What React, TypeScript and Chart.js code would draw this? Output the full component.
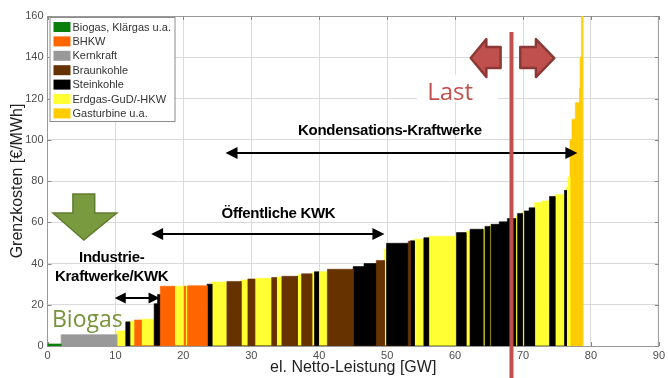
import React, { useEffect, useRef } from 'react';
import { Chart, registerables } from 'chart.js';

Chart.register(...registerables);

// Fuel categories (legend order) and their fill colours
const fuelNames = [
  'Biogas, Klärgas u.a.',
  'BHKW',
  'Kernkraft',
  'Braunkohle',
  'Steinkohle',
  'Erdgas-GuD/-HKW',
  'Gasturbine u.a.',
];
const fuelColors = ['#0b7f0b', '#ff6600', '#999999', '#663300', '#000000', '#ffff33', '#ffcc00'];

// Merit order: every block ends at blockEnd (cumulative GW) and has the marginal cost blockCost (€/MWh).
// blockFuel holds the index into fuelNames.
const blockFuel = [
  0, 2, 5, 4, 5, 1, 5, 4, 4, 1,
  5, 1, 5, 1, 4, 5, 3, 5, 3, 5,
  3, 5, 3, 5, 3, 5, 4, 5, 3, 4,
  4, 3, 5, 4, 3, 4, 5, 4, 5, 4,
  5, 4, 5, 4, 5, 4, 4, 4, 5, 4,
  5, 4, 4, 5, 5, 4, 5, 4, 5, 5,
  6, 6, 6, 6, 6, 6,
];
const blockEnd = [
  2.0, 10.2, 11.5, 12.1, 12.8, 13.8, 15.7, 16.2, 16.6, 18.7,
  20.1, 20.3, 20.6, 23.5, 24.2, 26.4, 28.5, 29.5, 30.5, 33.0,
  33.7, 34.5, 36.8, 37.4, 38.9, 39.3, 39.9, 41.2, 45.0, 46.6,
  48.4, 49.6, 49.9, 53.1, 53.4, 54.0, 55.4, 56.1, 60.2, 61.6,
  62.2, 64.1, 64.4, 65.1, 65.3, 66.5, 67.7, 68.9, 69.2, 69.9,
  70.2, 70.9, 71.7, 72.8, 73.9, 74.7, 76.1, 76.4, 76.6, 76.9,
  77.2, 77.7, 78.3, 78.4, 78.6, 78.8,
];
const blockCost = [
  1, 5.5, 7.3, 11.7, 12, 12.6, 13, 20.5, 25, 29,
  29, 29, 29, 29.2, 30, 31, 31.3, 32, 32.5, 32.8,
  33.2, 33.4, 33.8, 34.5, 35, 35.5, 36, 36, 37.2, 38.5,
  40, 41.5, 47, 49.8, 50.8, 51, 51.8, 52.5, 53.2, 55,
  55.5, 56.6, 57, 58, 58.3, 59, 60.2, 61.8, 63, 64.3,
  64.8, 65.5, 67, 69.5, 70.3, 72.5, 73.5, 75.5, 77, 82,
  100, 110, 118, 125, 140, 175,
];

// Axis ranges
const xRange = [0, 90];
const xStep = 10;
const yRange = [0, 160];
const yStep = 20;

// Current load (GW)
const loadGW = 68.3;

const FONT = '"Liberation Sans", Arial, sans-serif';

function doubleArrow(ctx: CanvasRenderingContext2D, x1: number, x2: number, y: number, hl: number, hw: number) {
  ctx.save();
  ctx.strokeStyle = '#000';
  ctx.fillStyle = '#000';
  ctx.lineWidth = 2;
  ctx.beginPath();
  ctx.moveTo(x1 + hl - 1, y);
  ctx.lineTo(x2 - hl + 1, y);
  ctx.stroke();
  ctx.beginPath();
  ctx.moveTo(x1, y);
  ctx.lineTo(x1 + hl, y - hw);
  ctx.lineTo(x1 + hl, y + hw);
  ctx.closePath();
  ctx.fill();
  ctx.beginPath();
  ctx.moveTo(x2, y);
  ctx.lineTo(x2 - hl, y - hw);
  ctx.lineTo(x2 - hl, y + hw);
  ctx.closePath();
  ctx.fill();
  ctx.restore();
}

function boldLabel(ctx: CanvasRenderingContext2D, text: string, x: number, y: number) {
  ctx.save();
  ctx.font = `bold 15px ${FONT}`;
  (ctx as any).letterSpacing = '-0.3px';
  ctx.fillStyle = '#000';
  ctx.textAlign = 'center';
  ctx.textBaseline = 'middle';
  ctx.fillText(text, x, y);
  ctx.restore();
}

const overlayPlugin = {
  id: 'overlay',
  beforeDatasetsDraw(chart: any) {
    const { ctx, chartArea: a, scales } = chart;
    ctx.save();
    // box around the plot
    ctx.strokeStyle = '#999';
    ctx.lineWidth = 1;
    ctx.beginPath();
    ctx.moveTo(a.left, a.top + 0.5);
    ctx.lineTo(a.right - 0.5, a.top + 0.5);
    ctx.lineTo(a.right - 0.5, a.bottom);
    ctx.stroke();
    // inward tick marks
    ctx.strokeStyle = '#888';
    for (let v = xRange[0]; v <= xRange[1]; v += xStep) {
      const px = Math.round(scales.x.getPixelForValue(v)) + 0.5;
      ctx.beginPath();
      ctx.moveTo(px, a.bottom);
      ctx.lineTo(px, a.bottom - 4);
      ctx.moveTo(px, a.top);
      ctx.lineTo(px, a.top + 4);
      ctx.stroke();
    }
    for (let v = yRange[0]; v <= yRange[1]; v += yStep) {
      const py = Math.round(scales.y.getPixelForValue(v)) + 0.5;
      ctx.beginPath();
      ctx.moveTo(a.left, py);
      ctx.lineTo(a.left + 4, py);
      ctx.moveTo(a.right, py);
      ctx.lineTo(a.right - 4, py);
      ctx.stroke();
    }
    ctx.restore();
  },
  afterDatasetsDraw(chart: any) {
    const { ctx, chartArea: a, scales } = chart;
    const X = (v: number) => scales.x.getPixelForValue(v);
    const Y = (v: number) => scales.y.getPixelForValue(v);

    // legend box
    ctx.save();
    const lx = a.left + 2;
    const ly = a.top + 1;
    ctx.fillStyle = '#fff';
    ctx.fillRect(lx, ly, 125, 104);
    ctx.strokeStyle = '#8c8c8c';
    ctx.lineWidth = 1;
    ctx.strokeRect(lx + 0.5, ly + 0.5, 125, 104);
    ctx.font = `11px ${FONT}`;
    ctx.textBaseline = 'middle';
    fuelNames.forEach((name, i) => {
      const cy = ly + 10 + i * 14.4;
      ctx.fillStyle = fuelColors[i];
      ctx.fillRect(lx + 4, cy - 5, 17, 10);
      ctx.fillStyle = '#333';
      ctx.fillText(name, lx + 23, cy + 0.5);
    });
    ctx.restore();

    // group annotations
    boldLabel(ctx, 'Kondensations-Kraftwerke', X(50.4), Y(104.2));
    doubleArrow(ctx, X(26.2), X(78.0), Math.round(Y(93.8)), 12, 6);
    boldLabel(ctx, 'Öffentliche KWK', X(34.0), Y(64));
    doubleArrow(ctx, X(15.25), X(49.6), Math.round(Y(54.3)), 12, 6);
    boldLabel(ctx, 'Industrie-', X(9.45), Y(42.9));
    boldLabel(ctx, 'Kraftwerke/KWK', X(9.45), Y(33.5));
    doubleArrow(ctx, X(9.9), X(16.5), Math.round(Y(23.4)), 11, 5.5);

    // Biogas label and downward arrow
    ctx.save();
    ctx.font = `23px "Open Sans", ${FONT}`;
    ctx.fillStyle = '#77933c';
    ctx.textBaseline = 'alphabetic';
    ctx.fillText('Biogas', X(0.66), Y(9.2));
    ctx.beginPath();
    ctx.moveTo(X(3.74), Y(73.7));
    ctx.lineTo(X(6.95), Y(73.7));
    ctx.lineTo(X(6.95), Y(64.5));
    ctx.lineTo(X(10.2), Y(64.5));
    ctx.lineTo(X(5.35), Y(51.4));
    ctx.lineTo(X(0.8), Y(64.5));
    ctx.lineTo(X(3.74), Y(64.5));
    ctx.closePath();
    ctx.fillStyle = '#7a9a3f';
    ctx.fill();
    ctx.strokeStyle = '#627d32';
    ctx.lineWidth = 1.5;
    ctx.stroke();
    ctx.restore();

    // load marker
    ctx.save();
    ctx.fillStyle = '#fff';
    ctx.fillRect(X(54.4), Y(131.5), X(66.3) - X(54.4), Y(118.2) - Y(131.5));
    ctx.font = `24px "Open Sans", ${FONT}`;
    ctx.fillStyle = '#c0504d';
    ctx.textBaseline = 'alphabetic';
    ctx.fillText('Last', X(55.9), Y(119.3));

    const yc = Y(139.6);
    const headTop = Y(148.8);
    const headBot = Y(130.4);
    const shaftTop = Y(145);
    const shaftBot = Y(134.8);
    ctx.fillStyle = '#c0504d';
    ctx.strokeStyle = '#8c3836';
    ctx.lineWidth = 2.5;
    ctx.lineJoin = 'round';
    // left-pointing arrow
    ctx.beginPath();
    ctx.moveTo(X(62.3), yc);
    ctx.lineTo(X(64.6), headTop);
    ctx.lineTo(X(64.6), shaftTop);
    ctx.lineTo(X(66.7), shaftTop);
    ctx.lineTo(X(66.7), shaftBot);
    ctx.lineTo(X(64.6), shaftBot);
    ctx.lineTo(X(64.6), headBot);
    ctx.closePath();
    ctx.fill();
    ctx.stroke();
    // right-pointing arrow
    ctx.beginPath();
    ctx.moveTo(X(74.6), yc);
    ctx.lineTo(X(71.9), headTop);
    ctx.lineTo(X(71.9), shaftTop);
    ctx.lineTo(X(69.6), shaftTop);
    ctx.lineTo(X(69.6), shaftBot);
    ctx.lineTo(X(71.9), shaftBot);
    ctx.lineTo(X(71.9), headBot);
    ctx.closePath();
    ctx.fill();
    ctx.stroke();

    // vertical load line
    ctx.strokeStyle = '#c0504d';
    ctx.lineWidth = 4;
    ctx.beginPath();
    ctx.moveTo(X(loadGW), Y(152.2));
    ctx.lineTo(X(loadGW), chart.height);
    ctx.stroke();
    ctx.restore();

    // axis titles
    ctx.save();
    ctx.font = `16px ${FONT}`;
    ctx.fillStyle = '#222';
    ctx.textAlign = 'center';
    ctx.textBaseline = 'middle';
    ctx.fillText('el. Netto-Leistung [GW]', (a.left + a.right) / 2, 368);
    ctx.translate(18, (a.top + a.bottom) / 2);
    ctx.rotate(-Math.PI / 2);
    ctx.fillText('Grenzkosten [€/MWh]', 0, 0);
    ctx.restore();
  },
};

export default function App() {
  const ref = useRef<HTMLCanvasElement>(null);

  useEffect(() => {
    document.body.style.margin = '0';
    const canvas = ref.current;
    if (!canvas) return;

    const starts = blockEnd.map((_, i) => (i === 0 ? 0 : blockEnd[i - 1]));
    const datasets = fuelNames.map((name, f) => {
      const pts: { x: number; y: number }[] = [];
      blockFuel.forEach((bf, i) => {
        if (bf !== f) return;
        pts.push(
          { x: starts[i], y: 0 },
          { x: starts[i], y: blockCost[i] },
          { x: blockEnd[i], y: blockCost[i] },
          { x: blockEnd[i], y: 0 },
        );
      });
      return {
        label: name,
        data: pts,
        fill: 'origin',
        backgroundColor: fuelColors[f],
        borderColor: fuelColors[f],
        borderWidth: 0.6,
        pointRadius: 0,
        pointHoverRadius: 0,
        tension: 0,
      };
    });

    const chart = new Chart(canvas, {
      type: 'line',
      data: { datasets: datasets as any },
      options: {
        responsive: false,
        animation: false,
        devicePixelRatio: 1,
        events: [],
        layout: { padding: { top: 16, right: 6, left: 0, bottom: 0 } },
        plugins: { legend: { display: false }, tooltip: { enabled: false } },
        scales: {
          x: {
            type: 'linear',
            min: xRange[0],
            max: xRange[1],
            ticks: { stepSize: xStep, color: '#4d4d4d', font: { size: 11, family: FONT }, padding: 3, maxRotation: 0 },
            grid: { color: '#dadada', drawTicks: false },
            border: { color: '#999' },
            afterFit: (s: any) => { s.height = 32; },
          },
          y: {
            type: 'linear',
            min: yRange[0],
            max: yRange[1],
            ticks: { stepSize: yStep, color: '#4d4d4d', font: { size: 11, family: FONT }, padding: 4 },
            grid: { color: '#dadada', drawTicks: false },
            border: { color: '#999' },
            afterFit: (s: any) => { s.width = 47.5; },
          },
        },
      },
      plugins: [overlayPlugin],
    });

    return () => chart.destroy();
  }, []);

  return (
    <div style={{ position: 'absolute', left: 0, top: 0, width: 668, height: 378 }}>
      <canvas ref={ref} width={668} height={378} />
    </div>
  );
}
